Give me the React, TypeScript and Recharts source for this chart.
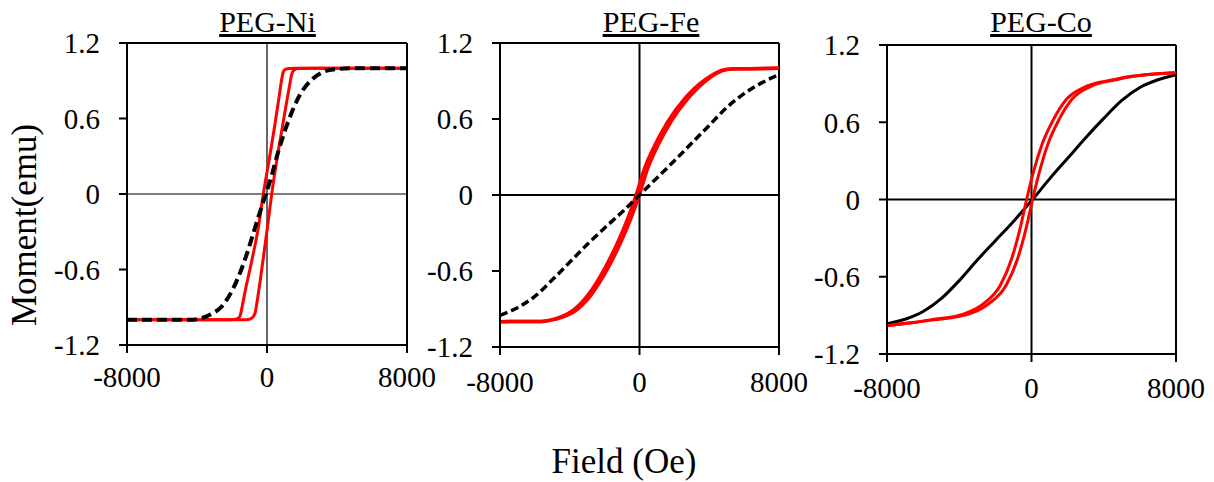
import { LineChart, XAxis, YAxis, Line, ReferenceLine } from 'recharts'

// field (Oe) / moment (emu)

// PEG-Ni
const NI_RED_DOWN_X = [-8000, -2200, -1800, -1620, -1540, -1400, -1260, -870, -500, -210, 170, 460, 700, 850, 930, 1050, 1300, 1800, 8000]
const NI_RED_DOWN_Y = [-1.0, -1.0, -0.995, -0.985, -0.97, -0.88, -0.78, -0.53, -0.27, 0.0, 0.31, 0.56, 0.78, 0.92, 0.97, 0.99, 0.998, 1.0, 1.0]
const NI_RED_UP_X = [-8000, -1400, -1000, -820, -690, -550, -300, 0, 270, 550, 840, 1120, 1300, 1410, 1550, 1800, 2500, 8000]
const NI_RED_UP_Y = [-1.0, -1.0, -0.995, -0.98, -0.95, -0.84, -0.6, -0.29, 0.0, 0.26, 0.5, 0.73, 0.87, 0.95, 0.985, 0.998, 1.0, 1.0]
const NI_BLACK_X = [-8000, -4400, -3260, -2500, -1730, -1160, -690, -210, 170, 650, 1220, 1890, 2650, 3790, 5310, 8000]
const NI_BLACK_Y = [-1.0, -1.0, -0.96, -0.88, -0.69, -0.48, -0.27, -0.06, 0.1, 0.34, 0.58, 0.79, 0.92, 0.99, 1.0, 1.0]

// PEG-Fe
const FE_RED_Y = [-1.0, -0.998, -0.99, -0.965, -0.92, -0.79, -0.58, -0.37, -0.18, 0.0, 0.21, 0.39, 0.58, 0.76, 0.91, 0.99, 0.997, 1.0]
const FE_RED_UP_X = [-8000, -5600, -5160, -4450, -3740, -2780, -1820, -1060, -480, -10, 470, 1050, 1810, 2770, 3880, 5000, 5730, 8000]
const FE_RED_DOWN_X = [-8000, -5600, -5160, -4550, -3900, -2960, -2000, -1240, -660, -190, 290, 870, 1630, 2590, 3760, 4940, 5730, 8000]
const FE_BLACK_X = [-8000, -7000, -6000, -5000, -4000, -3000, -2000, -1000, 0, 1000, 2000, 3000, 4000, 5000, 6000, 7000, 8000]
const FE_BLACK_Y = [-0.95, -0.89, -0.8, -0.67, -0.53, -0.39, -0.26, -0.135, 0.0, 0.135, 0.27, 0.41, 0.55, 0.69, 0.8, 0.885, 0.95]

// PEG-Co
const CO_RED_Y = [-0.98, -0.96, -0.935, -0.89, -0.81, -0.67, -0.46, -0.23, 0.0, 0.21, 0.42, 0.62, 0.78, 0.88, 0.93, 0.955, 0.985]
const CO_RED_DOWN_X = [-8000, -6800, -5620, -3780, -2670, -1740, -1100, -640, -270, 100, 560, 1210, 1950, 3060, 4530, 5450, 8000]
const CO_RED_UP_X = [-8000, -6800, -5420, -3480, -2370, -1420, -770, -310, 60, 430, 880, 1520, 2250, 3310, 4680, 5550, 8000]
const CO_BLACK_X = [-8000, -7000, -6000, -5000, -4000, -3000, -2000, -1000, 0, 1000, 2000, 3000, 4000, 5000, 6000, 7000, 8000]
const CO_BLACK_Y = [-0.965, -0.93, -0.87, -0.77, -0.63, -0.47, -0.32, -0.17, -0.01, 0.16, 0.32, 0.48, 0.63, 0.77, 0.87, 0.93, 0.97]

const X_TICKS = [-8000, 0, 8000]
const Y_TICKS = [-1.2, -0.6, 0, 0.6, 1.2]

const FONT = '"Liberation Serif", "Times New Roman", serif'
const TICK = { fill: '#000', fontSize: 29, fontFamily: FONT }

const pts = (xs: number[], ys: number[]) => xs.map((x, i) => ({ x, y: ys[i] }))

interface Series {
  xs: number[]
  ys: number[]
  color: string
  width: number
  dash?: string
}

interface PanelProps {
  x0: number
  x1: number
  y0: number
  y1: number
  xTickGap: number
  zeroWidth: number
  series: Series[]
}

function Panel({ x0, x1, y0, y1, xTickGap, zeroWidth, series }: PanelProps) {
  const yAxisW = 100
  const right = 45
  const bottom = 20
  const xAxisH = 50
  const w = x1 - x0 + yAxisW + right
  const h = y1 + bottom + xAxisH
  const axisStroke = { stroke: '#000', strokeWidth: 2 }
  return (
    <div style={{ position: 'absolute', left: x0 - yAxisW, top: 0 }}>
      <LineChart width={w} height={h} margin={{ top: y0, right, bottom, left: 0 }}>
        <XAxis
          dataKey="x"
          type="number"
          domain={[-8000, 8000]}
          ticks={X_TICKS}
          allowDataOverflow
          height={xAxisH}
          tick={TICK}
          tickSize={8}
          tickMargin={xTickGap}
          axisLine={axisStroke}
          tickLine={axisStroke}
        />
        <YAxis
          type="number"
          domain={[-1.2, 1.2]}
          ticks={Y_TICKS}
          allowDataOverflow
          width={yAxisW}
          tick={TICK}
          tickSize={8}
          tickMargin={19}
          axisLine={axisStroke}
          tickLine={axisStroke}
        />
        <ReferenceLine y={0} stroke="#000" strokeWidth={zeroWidth} />
        <ReferenceLine x={0} stroke="#000" strokeWidth={zeroWidth} />
        <ReferenceLine y={1.2} stroke="#000" strokeWidth={2} />
        <ReferenceLine x={8000} stroke="#000" strokeWidth={2} />
        {series.map((s, i) => (
          <Line
            key={i}
            data={pts(s.xs, s.ys)}
            dataKey="y"
            type="monotone"
            stroke={s.color}
            strokeWidth={s.width}
            strokeDasharray={s.dash}
            dot={false}
            activeDot={false}
            isAnimationActive={false}
          />
        ))}
      </LineChart>
    </div>
  )
}

const RED = '#ff0000'

export default function App() {
  return (
    <div style={{ position: 'absolute', left: 0, top: 0, width: 1214, height: 482, background: '#fff' }}>
      <Panel
        x0={127} x1={407} y0={43} y1={345} xTickGap={13}
        zeroWidth={1.2}
        series={[
          { xs: NI_RED_DOWN_X, ys: NI_RED_DOWN_Y, color: RED, width: 3 },
          { xs: NI_RED_UP_X, ys: NI_RED_UP_Y, color: RED, width: 3 },
          { xs: NI_BLACK_X, ys: NI_BLACK_Y, color: '#000', width: 4, dash: '10 5' },
        ]}
      />
      <Panel
        x0={500} x1={779} y0={43} y1={347} xTickGap={16}
        zeroWidth={2}
        series={[
          { xs: FE_RED_DOWN_X, ys: FE_RED_Y, color: RED, width: 3.5 },
          { xs: FE_RED_UP_X, ys: FE_RED_Y, color: RED, width: 3.5 },
          { xs: FE_BLACK_X, ys: FE_BLACK_Y, color: '#000', width: 3.5, dash: '8 4' },
        ]}
      />
      <Panel
        x0={887} x1={1176} y0={45} y1={354} xTickGap={15}
        zeroWidth={2}
        series={[
          { xs: CO_BLACK_X, ys: CO_BLACK_Y, color: '#000', width: 3 },
          { xs: CO_RED_DOWN_X, ys: CO_RED_Y, color: RED, width: 3 },
          { xs: CO_RED_UP_X, ys: CO_RED_Y, color: RED, width: 3 },
        ]}
      />
      <svg width={1214} height={482} style={{ position: 'absolute', left: 0, top: 0, pointerEvents: 'none' }}>
        <g fontFamily={FONT} fill="#000">
          <text x={267.5} y={32} fontSize={30} textAnchor="middle" textDecoration="underline">PEG-Ni</text>
          <text x={651} y={32} fontSize={30} textAnchor="middle" textDecoration="underline">PEG-Fe</text>
          <text x={1041} y={32} fontSize={30} textAnchor="middle" textDecoration="underline">PEG-Co</text>
          <text x={624} y={473} fontSize={35} textAnchor="middle">Field (Oe)</text>
          <text x={0} y={0} fontSize={35} textAnchor="middle" transform="translate(36 225) rotate(-90)">Moment(emu)</text>
        </g>
      </svg>
    </div>
  )
}
